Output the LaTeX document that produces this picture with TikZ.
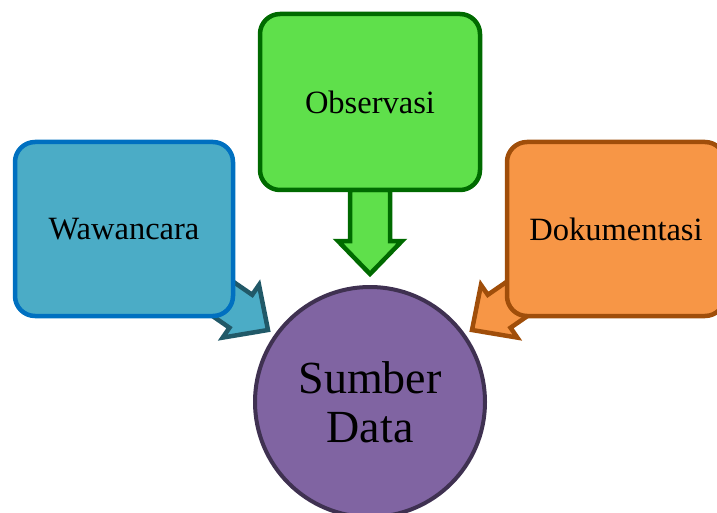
\documentclass[tikz,border=0pt]{standalone}
\usepackage{fontspec}
\setmainfont{Liberation Serif}
\definecolor{bluefill}{HTML}{4BACC6}
\definecolor{blueline}{HTML}{0070C0}
\definecolor{bluearrowline}{HTML}{215968}
\definecolor{greenfill}{HTML}{5FE04B}
\definecolor{greenline}{HTML}{006A00}
\definecolor{orangefill}{HTML}{F79646}
\definecolor{orangeline}{HTML}{A04E0A}
\definecolor{purplefill}{HTML}{8064A2}
\definecolor{purpleline}{HTML}{3F3151}
\tikzset{
  boxnode/.style={rounded corners=20pt, line width=4.5pt, minimum width=218pt, minimum height=174pt,
    font=\fontsize{32.5}{38}\selectfont, inner sep=0pt},
  blockarrow/.style={line width=4.5pt, line join=miter, miter limit=10},
  hubnode/.style={circle, line width=4pt, minimum size=230pt, inner sep=0pt, align=center,
    font=\fontsize{46}{49}\selectfont}
}
\newcommand{\myarrowshape}[1]{(0,0) -- (-33,32) -- (-33,20) -- (-#1,20) -- (-#1,-20) -- (-33,-20) -- (-33,-32) -- cycle}
\begin{document}
\begin{tikzpicture}[x=1pt,y=-1pt]
\useasboundingbox (0,0) rectangle (717,513);
\clip (0,0) rectangle (717,513);
% block arrows
\begin{scope}[shift={(370,274)}, rotate=-90]
  \draw[blockarrow, draw=greenline, fill=greenfill] \myarrowshape{84};
\end{scope}
\begin{scope}[shift={(268,330)}, rotate=-34.6]
  \draw[blockarrow, draw=bluearrowline, fill=bluefill] \myarrowshape{110};
\end{scope}
\begin{scope}[shift={(472,330)}, rotate=-145.4]
  \draw[blockarrow, draw=orangeline, fill=orangefill] \myarrowshape{110};
\end{scope}
% boxes
\node[boxnode, draw=blueline, fill=bluefill] (waw) at (124,229) {Wawancara};
\node[boxnode, draw=greenline, fill=greenfill, minimum width=220pt, minimum height=176pt] (obs) at (370,102) {Observasi};
\node[boxnode, draw=orangeline, fill=orangefill] (dok) at (616,229) {Dokumentasi};
% hub
\node[hubnode, draw=purpleline, fill=purplefill] (hub) at (370,402) {Sumber\\Data};
\end{tikzpicture}
\end{document}
